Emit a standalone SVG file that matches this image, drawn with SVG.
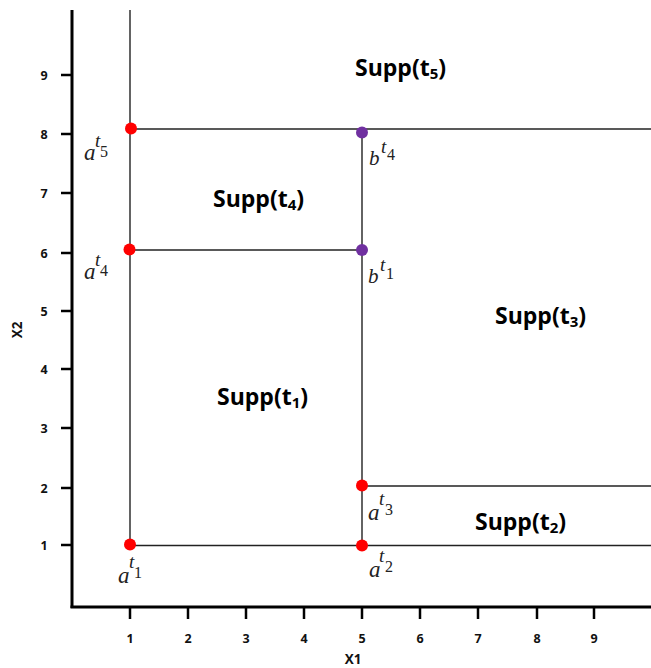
<svg xmlns="http://www.w3.org/2000/svg" width="651" height="668" viewBox="0 0 651 668">
<style>
.axis{stroke:#000;stroke-width:3;fill:none}
.tick{stroke:#000;stroke-width:2.5}
.ln{stroke:#222;stroke-width:1.4;fill:none}
.num{font-family:"Open Sans","Liberation Sans",sans-serif;font-weight:700;font-size:12.5px;fill:#111;text-anchor:middle}
.ax{font-family:"Open Sans","Liberation Sans",sans-serif;font-weight:700;font-size:13.5px;fill:#111;text-anchor:middle}
.supp{font-family:"Open Sans","Liberation Sans",sans-serif;font-weight:700;font-size:23px;fill:#000}
.sub{font-size:15px}
.m{font-family:"Liberation Serif",serif;font-style:italic;fill:#222}
.big{font-size:23px}
.bb{font-size:21px}
.t{font-size:19px}
.d{font-family:"Liberation Serif",serif;font-style:normal;font-size:16px;fill:#222}
.red{fill:#f00}
.pur{fill:#7030a0}
</style>
<rect width="651" height="668" fill="#fff"/>
<g id="axes">
<line class="axis" x1="72" y1="10" x2="72" y2="608"/>
<line class="axis" x1="70.5" y1="607" x2="651" y2="607"/>
<g class="tick">
<line x1="61" y1="75" x2="72" y2="75"/><line x1="61" y1="134" x2="72" y2="134"/><line x1="61" y1="193" x2="72" y2="193"/><line x1="61" y1="253" x2="72" y2="253"/><line x1="61" y1="311" x2="72" y2="311"/><line x1="61" y1="369" x2="72" y2="369"/><line x1="61" y1="428" x2="72" y2="428"/><line x1="61" y1="488" x2="72" y2="488"/><line x1="61" y1="545" x2="72" y2="545"/>
<line x1="130" y1="607" x2="130" y2="619"/><line x1="188" y1="607" x2="188" y2="619"/><line x1="246" y1="607" x2="246" y2="619"/><line x1="304" y1="607" x2="304" y2="619"/><line x1="362" y1="607" x2="362" y2="619"/><line x1="420" y1="607" x2="420" y2="619"/><line x1="478" y1="607" x2="478" y2="619"/><line x1="537" y1="607" x2="537" y2="619"/><line x1="594" y1="607" x2="594" y2="619"/>
</g>
<g class="num">
<text x="44" y="80">9</text><text x="44" y="139">8</text><text x="44" y="198">7</text><text x="44" y="258">6</text><text x="44" y="316">5</text><text x="44" y="374">4</text><text x="44" y="433">3</text><text x="44" y="493">2</text><text x="44" y="550">1</text>
<text x="130" y="643">1</text><text x="188" y="643">2</text><text x="246" y="643">3</text><text x="304" y="643">4</text><text x="362" y="643">5</text><text x="420" y="643">6</text><text x="478" y="643">7</text><text x="537" y="643">8</text><text x="594" y="643">9</text>
</g>
<text class="ax" x="353" y="664">X1</text>
<text class="ax" x="0" y="0" transform="translate(22,330) rotate(-90)">X2</text>
</g>
<g id="connectors">
<line class="ln" x1="130" y1="10" x2="130" y2="545"/>
<line class="ln" x1="130" y1="129" x2="651" y2="129"/>
<line class="ln" x1="130" y1="250" x2="362" y2="250"/>
<line class="ln" x1="362" y1="132" x2="362" y2="545"/>
<line class="ln" x1="362" y1="486" x2="651" y2="486"/>
<line class="ln" x1="130" y1="545.5" x2="651" y2="545.5"/>
</g>
<g id="a5"><circle class="red" cx="131" cy="128.5" r="6"/><text class="m big" x="84" y="160">a</text><text class="m t" x="95" y="147">t</text><text class="d" x="100" y="157">5</text></g>
<g id="a4"><circle class="red" cx="129.5" cy="249.5" r="6"/><text class="m big" x="84" y="279">a</text><text class="m t" x="95" y="266">t</text><text class="d" x="100" y="276">4</text></g>
<g id="a1"><circle class="red" cx="130" cy="544.5" r="6"/><text class="m big" x="118" y="583">a</text><text class="m t" x="129" y="568">t</text><text class="d" x="134" y="578">1</text></g>
<g id="a2"><circle class="red" cx="362" cy="545.5" r="6"/><text class="m big" x="369" y="577">a</text><text class="m t" x="379" y="562">t</text><text class="d" x="385" y="572">2</text></g>
<g id="a3"><circle class="red" cx="362" cy="485.5" r="6"/><text class="m big" x="368" y="520">a</text><text class="m t" x="379" y="505">t</text><text class="d" x="385" y="515">3</text></g>
<g id="b4"><circle class="pur" cx="362" cy="132.5" r="6"/><text class="m bb" x="369" y="165">b</text><text class="m t" x="381" y="153">t</text><text class="d" x="387" y="160">4</text></g>
<g id="b1"><circle class="pur" cx="362" cy="250" r="6"/><text class="m bb" x="368" y="283">b</text><text class="m t" x="380" y="271">t</text><text class="d" x="386" y="279">1</text></g>
<g id="supp5"><text class="supp" x="355" y="76">Supp(t<tspan class="sub" dy="3">5</tspan><tspan dy="-3">)</tspan></text></g>
<g id="supp4"><text class="supp" x="213" y="207">Supp(t<tspan class="sub" dy="3">4</tspan><tspan dy="-3">)</tspan></text></g>
<g id="supp1"><text class="supp" x="217" y="405">Supp(t<tspan class="sub" dy="3">1</tspan><tspan dy="-3">)</tspan></text></g>
<g id="supp3"><text class="supp" x="495" y="324">Supp(t<tspan class="sub" dy="3">3</tspan><tspan dy="-3">)</tspan></text></g>
<g id="supp2"><text class="supp" x="475" y="530">Supp(t<tspan class="sub" dy="3">2</tspan><tspan dy="-3">)</tspan></text></g>
</svg>
